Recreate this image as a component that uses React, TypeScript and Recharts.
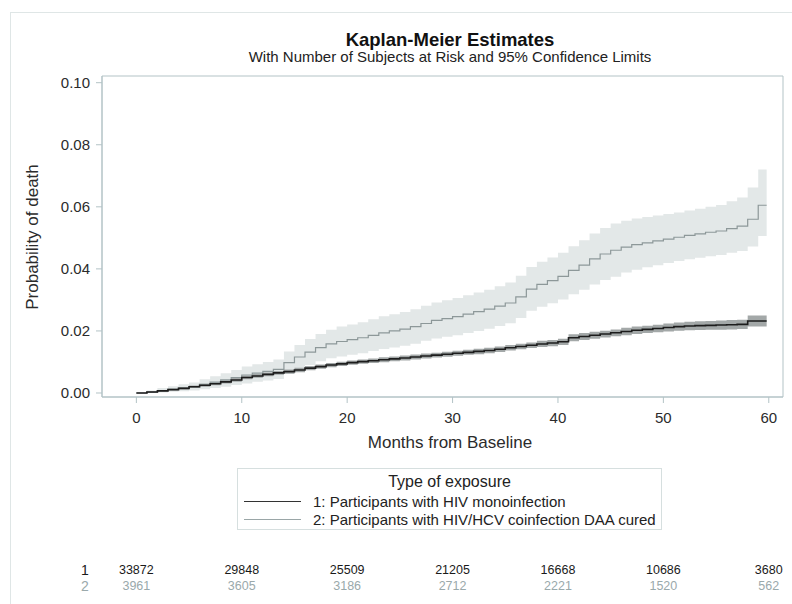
import React from 'react';
import { ComposedChart, Area, Line, XAxis, YAxis, ReferenceArea, ReferenceDot } from 'recharts';

// Months (last point = end of follow-up)
const months = [
  0, 1, 2, 3, 4, 5, 6, 7, 8, 9,
  10, 11, 12, 13, 14, 15, 16, 17, 18, 19,
  20, 21, 22, 23, 24, 25, 26, 27, 28, 29,
  30, 31, 32, 33, 34, 35, 36, 37, 38, 39,
  40, 41, 42, 43, 44, 45, 46, 47, 48, 49,
  50, 51, 52, 53, 54, 55, 56, 57, 58, 59, 59.8,
];

// Group 1: HIV monoinfection
const km1 = [
  0, 0.0003, 0.0007, 0.0011, 0.0015, 0.0020, 0.0025, 0.0030, 0.0036, 0.0042,
  0.0050, 0.0055, 0.0060, 0.0065, 0.0069, 0.0074, 0.0080, 0.0085, 0.0090, 0.0094,
  0.0098, 0.0101, 0.0104, 0.0107, 0.0110, 0.0113, 0.0116, 0.0119, 0.0122, 0.0125,
  0.0128, 0.0131, 0.0134, 0.0137, 0.0141, 0.0146, 0.0150, 0.0154, 0.0158, 0.0161,
  0.0165, 0.0178, 0.0182, 0.0186, 0.0190, 0.0194, 0.0198, 0.0202, 0.0205, 0.0208,
  0.0211, 0.0214, 0.0216, 0.0217, 0.0218, 0.0219, 0.0220, 0.0221, 0.0232, 0.0232, 0.0232,
];
const lo1 = [
  0, 0.0001, 0.0004, 0.0008, 0.0011, 0.0016, 0.0020, 0.0025, 0.0031, 0.0036,
  0.0044, 0.0049, 0.0054, 0.0059, 0.0062, 0.0067, 0.0073, 0.0078, 0.0083, 0.0087,
  0.0091, 0.0094, 0.0097, 0.0099, 0.0102, 0.0105, 0.0108, 0.0111, 0.0114, 0.0117,
  0.0120, 0.0123, 0.0125, 0.0128, 0.0132, 0.0137, 0.0141, 0.0145, 0.0148, 0.0151,
  0.0155, 0.0167, 0.0171, 0.0175, 0.0179, 0.0183, 0.0186, 0.0190, 0.0193, 0.0196,
  0.0198, 0.0201, 0.0202, 0.0203, 0.0204, 0.0204, 0.0205, 0.0206, 0.0214, 0.0214, 0.0214,
];
const hi1 = [
  0, 0.0005, 0.0010, 0.0014, 0.0019, 0.0024, 0.0030, 0.0035, 0.0041, 0.0048,
  0.0056, 0.0061, 0.0066, 0.0071, 0.0076, 0.0081, 0.0087, 0.0092, 0.0097, 0.0101,
  0.0105, 0.0108, 0.0111, 0.0115, 0.0118, 0.0121, 0.0124, 0.0127, 0.0130, 0.0133,
  0.0136, 0.0139, 0.0143, 0.0146, 0.0150, 0.0155, 0.0159, 0.0163, 0.0168, 0.0171,
  0.0175, 0.0189, 0.0193, 0.0197, 0.0201, 0.0205, 0.0210, 0.0214, 0.0217, 0.0220,
  0.0224, 0.0227, 0.0230, 0.0231, 0.0232, 0.0234, 0.0235, 0.0236, 0.0250, 0.0250, 0.0250,
];

// Group 2: HIV/HCV coinfection DAA cured
const km2 = [
  0, 0.0003, 0.0008, 0.0012, 0.0016, 0.0020, 0.0028, 0.0035, 0.0042, 0.0050,
  0.0058, 0.0064, 0.0070, 0.0076, 0.0098, 0.0116, 0.0132, 0.0146, 0.0158, 0.0166,
  0.0172, 0.0178, 0.0186, 0.0194, 0.0200, 0.0206, 0.0214, 0.0224, 0.0234, 0.0240,
  0.0246, 0.0254, 0.0262, 0.0270, 0.0280, 0.0290, 0.0310, 0.0335, 0.0350, 0.0362,
  0.0376, 0.0395, 0.0412, 0.0432, 0.0448, 0.0460, 0.0470, 0.0478, 0.0484, 0.0490,
  0.0496, 0.0502, 0.0508, 0.0513, 0.0518, 0.0522, 0.0530, 0.0538, 0.0560, 0.0605, 0.0605,
];
const lo2 = [
  0, 0, 0.0002, 0.0004, 0.0006, 0.0008, 0.0012, 0.0016, 0.0020, 0.0026,
  0.0031, 0.0036, 0.0040, 0.0045, 0.0062, 0.0077, 0.0090, 0.0102, 0.0112, 0.0118,
  0.0123, 0.0128, 0.0135, 0.0142, 0.0147, 0.0152, 0.0159, 0.0168, 0.0176, 0.0181,
  0.0186, 0.0193, 0.0200, 0.0207, 0.0216, 0.0225, 0.0242, 0.0265, 0.0278, 0.0289,
  0.0301, 0.0318, 0.0333, 0.0350, 0.0364, 0.0375, 0.0388, 0.0397, 0.0405, 0.0412,
  0.0419, 0.0425, 0.0431, 0.0436, 0.0441, 0.0445, 0.0452, 0.0458, 0.0472, 0.0506, 0.0506,
];
const hi2 = [
  0, 0.0008, 0.0016, 0.0022, 0.0028, 0.0034, 0.0044, 0.0054, 0.0064, 0.0074,
  0.0085, 0.0093, 0.0100, 0.0108, 0.0134, 0.0155, 0.0174, 0.0190, 0.0204, 0.0214,
  0.0221, 0.0228, 0.0238, 0.0247, 0.0254, 0.0261, 0.0270, 0.0281, 0.0292, 0.0299,
  0.0306, 0.0315, 0.0324, 0.0333, 0.0344, 0.0356, 0.0378, 0.0406, 0.0423, 0.0437,
  0.0452, 0.0473, 0.0492, 0.0514, 0.0532, 0.0546, 0.0555, 0.0562, 0.0567, 0.0572,
  0.0577, 0.0582, 0.0588, 0.0594, 0.0600, 0.0606, 0.0618, 0.0630, 0.0662, 0.0720, 0.0720,
];

// Axis ticks
const xTicks = [0, 10, 20, 30, 40, 50, 60];
const yTicks = [0, 0.02, 0.04, 0.06, 0.08, 0.1];

// Number at risk
const riskTimes = [0, 10, 20, 30, 40, 50, 60];
const atRisk1 = [33872, 29848, 25509, 21205, 16668, 10686, 3680];
const atRisk2 = [3961, 3605, 3186, 2712, 2221, 1520, 562];

const X_MIN = -3.26;
const X_MAX = 61.35;
const Y_MIN = -0.00129;
const Y_MAX = 0.10216;

const FONT = '"Liberation Sans", Arial, Helvetica, sans-serif';
const FRAME = '#b3c3c6';
const C_LINE1 = '#1c1c1c';
const C_BAND1 = '#a3a8a8';
const C_LINE2 = '#8d9899';
const C_BAND2 = '#e3e8e8';
const C_RISK2 = '#9aa9ab';

const data = months.map((m, i) => ({
  m,
  km1: km1[i],
  band1: [lo1[i], hi1[i]],
  km2: km2[i],
  band2: [lo2[i], hi2[i]],
}));

const makeRiskLabel = (value: number, color: string, dy: number) => (props: any) => {
  const vb = props.viewBox || {};
  const cx = (vb.x ?? 0) + (vb.width ?? 0) / 2;
  const cy = (vb.y ?? 0) + (vb.height ?? 0) / 2;
  return (
    <text x={cx} y={cy + dy} textAnchor="middle" dominantBaseline="central"
      fontFamily={FONT} fontSize={12.5} fill={color}>
      {value}
    </text>
  );
};

export default function App() {
  return (
    <div style={{ position: 'absolute', left: 0, top: 0, width: 792, height: 604, background: '#fff', overflow: 'hidden' }}>
      {/* outer figure border */}
      <div style={{ position: 'absolute', left: 10, top: 12, width: 800, height: 620, borderLeft: '1px solid #dfe6e6', borderTop: '1px solid #dfe6e6' }} />
      <ComposedChart width={792} height={604} data={data}
        margin={{ top: 76, right: 9, bottom: 177, left: 0 }}
        style={{ position: 'absolute', left: 0, top: 0 }}>
        <XAxis dataKey="m" type="number" domain={[X_MIN, X_MAX]} allowDataOverflow
          ticks={xTicks} interval={0} height={30}
          axisLine={{ stroke: FRAME }} tickLine={{ stroke: FRAME }} tickSize={6} tickMargin={9}
          tick={{ fill: '#2b2b2b', fontSize: 15, fontFamily: FONT }} />
        <YAxis type="number" domain={[Y_MIN, Y_MAX]} allowDataOverflow ticks={yTicks} interval={0}
          width={102} axisLine={{ stroke: FRAME }} tickLine={{ stroke: FRAME }} tickSize={6} tickMargin={6}
          tickFormatter={(v: number) => v.toFixed(2)}
          tick={{ fill: '#2b2b2b', fontSize: 15, fontFamily: FONT }} />
        <ReferenceArea x1={X_MIN} x2={X_MAX} y1={Y_MIN} y2={Y_MAX} fill="none" fillOpacity={0}
          stroke={FRAME} strokeWidth={1} ifOverflow="visible" />
        <Area dataKey="band2" type="stepAfter" stroke="none" fill={C_BAND2} fillOpacity={1}
          isAnimationActive={false} dot={false} activeDot={false} />
        <Area dataKey="band1" type="stepAfter" stroke="none" fill={C_BAND1} fillOpacity={1}
          isAnimationActive={false} dot={false} activeDot={false} />
        <Line dataKey="km2" type="stepAfter" stroke={C_LINE2} strokeWidth={1.2}
          dot={false} activeDot={false} isAnimationActive={false} />
        <Line dataKey="km1" type="stepAfter" stroke={C_LINE1} strokeWidth={1.6}
          dot={false} activeDot={false} isAnimationActive={false} />
        {riskTimes.map((t, i) => (
          <ReferenceDot key={'r1' + t} x={t} y={Y_MIN} r={1} fill="none" stroke="none" ifOverflow="visible"
            label={makeRiskLabel(atRisk1[i], '#1a1a1a', 173)} />
        ))}
        {riskTimes.map((t, i) => (
          <ReferenceDot key={'r2' + t} x={t} y={Y_MIN} r={1} fill="none" stroke="none" ifOverflow="visible"
            label={makeRiskLabel(atRisk2[i], C_RISK2, 189)} />
        ))}
      </ComposedChart>

      {/* Titles */}
      <div style={{ position: 'absolute', left: 0, width: 900, top: 29, textAlign: 'center', fontFamily: FONT, fontSize: 18.5, fontWeight: 'bold', color: '#111', lineHeight: '22px' }}>
        Kaplan-Meier Estimates
      </div>
      <div style={{ position: 'absolute', left: 0, width: 900, top: 48, textAlign: 'center', fontFamily: FONT, fontSize: 15, color: '#222', lineHeight: '18px' }}>
        With Number of Subjects at Risk and 95% Confidence Limits
      </div>

      {/* Y axis label */}
      <div style={{ position: 'absolute', left: 33, top: 237, transform: 'translate(-50%, -50%) rotate(-90deg)', whiteSpace: 'nowrap', fontFamily: FONT, fontSize: 17, color: '#2b2b2b' }}>
        Probability of death
      </div>

      {/* X axis label */}
      <div style={{ position: 'absolute', left: 0, width: 900, top: 432, textAlign: 'center', fontFamily: FONT, fontSize: 17, color: '#2b2b2b', lineHeight: '21px' }}>
        Months from Baseline
      </div>

      {/* Legend */}
      <div style={{ position: 'absolute', left: 237, top: 468, width: 425, height: 62, border: '1px solid #d6dfdf', boxSizing: 'border-box', fontFamily: FONT, fontSize: 15, color: '#222' }}>
        <div style={{ position: 'absolute', left: 0, right: 0, top: 3, textAlign: 'center', lineHeight: '19px', fontSize: 16 }}>Type of exposure</div>
        <div style={{ position: 'absolute', left: 6, top: 23, height: 19, display: 'flex', alignItems: 'center', whiteSpace: 'nowrap' }}>
          <span style={{ display: 'inline-block', width: 57, height: 0, borderTop: '1.5px solid #333', marginRight: 12 }} />
          1: Participants with HIV monoinfection
        </div>
        <div style={{ position: 'absolute', left: 6, top: 41, height: 19, display: 'flex', alignItems: 'center', whiteSpace: 'nowrap' }}>
          <span style={{ display: 'inline-block', width: 57, height: 0, borderTop: '1.2px solid #9aa6a7', marginRight: 12 }} />
          2: Participants with HIV/HCV coinfection DAA cured
        </div>
      </div>

      {/* At-risk row labels */}
      <div style={{ position: 'absolute', left: 79, top: 562, width: 12, textAlign: 'center', fontFamily: FONT, fontSize: 14, color: '#1a1a1a', lineHeight: '16px' }}>1</div>
      <div style={{ position: 'absolute', left: 79, top: 578, width: 12, textAlign: 'center', fontFamily: FONT, fontSize: 14, color: C_RISK2, lineHeight: '16px' }}>2</div>
    </div>
  );
}
